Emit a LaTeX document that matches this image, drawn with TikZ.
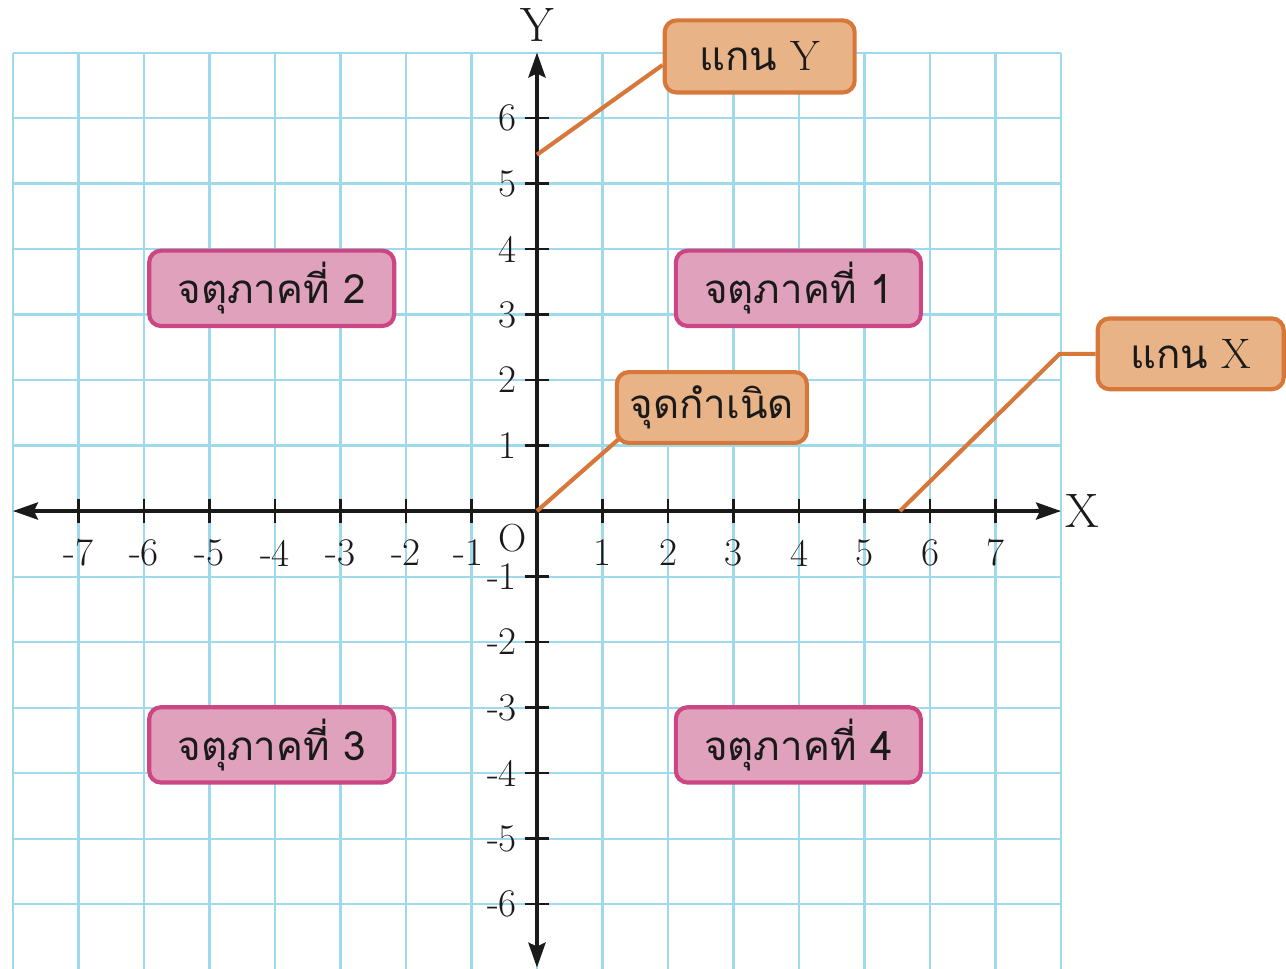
\documentclass[tikz,border=0pt]{standalone}
\usepackage{fontspec}
\newfontfamily\thaifont[Script=Thai]{Loma}
\usetikzlibrary{arrows.meta,calc}
\definecolor{gridblue}{HTML}{9FD9EC}
\definecolor{orfill}{HTML}{E9B388}
\definecolor{ordraw}{HTML}{D8773A}
\definecolor{pkfill}{HTML}{E0A1BC}
\definecolor{pkdraw}{HTML}{CB4683}
\definecolor{axisblack}{HTML}{1A1A1A}
\pgfdeclarelayer{bg}\pgfdeclarelayer{mid}\pgfsetlayers{bg,mid,main}
\begin{document}
\begin{tikzpicture}[x=1cm,y=1cm,
 gridline/.style={draw=gridblue,line width=0.9pt},
 axisline/.style={draw=axisblack,line width=1.8pt},
 tickmark/.style={draw=axisblack,line width=1.1pt},
 ticklabel/.style={font=\fontsize{17}{17}\selectfont, text=axisblack, inner sep=0pt},
 axislabel/.style={font=\fontsize{21}{21}\selectfont, text=axisblack, inner sep=0pt},
 callout/.style={draw=ordraw,fill=orfill,line width=1.8pt,rounded corners=0.18cm,minimum width=2.9cm,minimum height=1.1cm,font=\fontsize{18.5}{18.5}\selectfont,text=axisblack,inner sep=0pt},
 quad/.style={draw=pkdraw,fill=pkfill,line width=1.8pt,rounded corners=0.18cm,minimum width=3.74cm,minimum height=1.15cm,font=\fontsize{17.5}{17.5}\selectfont\thaifont,text=axisblack,inner sep=0pt},
 leader/.style={draw=ordraw,line width=1.8pt,line join=round}]
\useasboundingbox (-8.198,-6.977) rectangle (11.435,7.802);

\begin{pgfonlayer}{bg}
\draw[gridline] (-8,-7) grid (8,7);
\coordinate (xL) at (-8,0);
\coordinate (xR) at (8,0);
\coordinate (yB) at (0,-6.97);
\coordinate (yT) at (0,7);
\draw[axisline,{Stealth[length=0.38cm,width=0.26cm,inset=0.06cm]}-{Stealth[length=0.38cm,width=0.26cm,inset=0.06cm]}] (xL) -- (xR);
\draw[axisline,{Stealth[length=0.38cm,width=0.26cm,inset=0.06cm]}-{Stealth[length=0.38cm,width=0.26cm,inset=0.06cm]}] (yB) -- (yT);
\foreach \i in {-7,...,-1,1,2,...,7} \draw[tickmark] (\i,-0.19) -- (\i,0.19);
\foreach \i in {-6,...,-1,1,2,...,6} \draw[tickmark] (-0.19,\i) -- (0.19,\i);
\end{pgfonlayer}

% x tick labels
\foreach \i [count=\k] in {-7,...,-2} \node[ticklabel] (xn\k) at (\i,-0.64) {-\the\numexpr-\i\relax};
\node[ticklabel] (xnm1) at (-1.05,-0.64) {-1};
\foreach \i in {1,...,7} \node[ticklabel] (xp\i) at (\i,-0.64) {\i};
% y tick labels
\foreach \i in {1,...,6} \node[ticklabel,anchor=east] (yp\i) at (-0.3,\i) {\i};
\foreach \i [count=\k] in {-1,...,-6} \node[ticklabel,anchor=east] (yn\k) at (-0.3,\i) {-\the\numexpr-\i\relax};
\node[ticklabel] (orig) at (-0.38,-0.41) {O};
\node[axislabel] (labY) at (0,7.42) {Y};
\node[axislabel] (labX) at (8.32,0) {X};

% callouts
\node[callout] (boxY) at (3.40,6.94) {{\thaifont\fontsize{17.5}{17.5}\selectfont แกน} Y};
\node[callout,minimum width=2.84cm,minimum height=1.08cm] (boxX) at (9.98,2.40) {{\thaifont\fontsize{17.5}{17.5}\selectfont แกน} X};
\node[callout,minimum height=1.08cm] (boxO) at (2.67,1.58) {\thaifont\fontsize{17.5}{17.5}\selectfont จุดกำเนิด};

\node[quad] (q2) at (-4.05,3.40) {จตุภาคที่ 2};
\node[quad] (q1) at (3.99,3.40) {จตุภาคที่ 1};
\node[quad] (q3) at (-4.05,-3.57) {จตุภาคที่ 3};
\node[quad] (q4) at (3.99,-3.57) {จตุภาคที่ 4};

\begin{pgfonlayer}{mid}
\coordinate (yLead) at (0,5.44);
\coordinate (xLead) at (5.54,0);
\coordinate (xBend) at (7.98,2.40);
\coordinate (origin) at (0,0);
\draw[leader] (yLead) -- ([yshift=-0.13cm]boxY.west);
\draw[leader] (xLead) -- (xBend) -- (boxX.west);
\draw[leader] (origin) -- ([shift={(0.06,0.09)}]boxO.south west);
\end{pgfonlayer}
\end{tikzpicture}
\end{document}
